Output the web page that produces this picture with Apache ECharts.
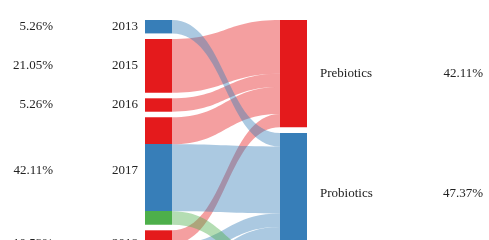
<!DOCTYPE html>
<html>
<head>
<meta charset="utf-8">
<script src="https://cdn.jsdelivr.net/npm/echarts@6/dist/echarts.min.js"></script>
<style>
  html, body { margin: 0; padding: 0; background: #fff; overflow: hidden; }
  #chart { width: 489px; height: 240px; }
</style>
</head>
<body>
<div id="chart"></div>
<script>
// left column (years) and their shares
const years = ['2013', '2015', '2016', '2017', '2018', '2019']
const yearShares = ['5.26%', '21.05%', '5.26%', '42.11%', '10.53%', '15.79%']
// right column (types)
const types = ['Prebiotics', 'Probiotics', 'Synbiotics']
const typeShares = ['42.11%', '47.37%', '10.53%']
const typeColors = ['#e41a1c', '#377eb8', '#4daf4a']
// flows per year into each type (counts)
const flowPrebiotics = [0, 4, 1, 2, 1, 0]
const flowProbiotics = [1, 0, 0, 5, 1, 2]
const flowSynbiotics = [0, 0, 0, 1, 0, 1]

const flows = [flowPrebiotics, flowProbiotics, flowSynbiotics]
const textFont = { fontFamily: 'Liberation Serif', fontSize: 13, color: '#222' }

// left nodes are split into coloured pieces, one per outgoing flow
const yearColor = (i) => {
  const total = flows.reduce((s, f) => s + f[i], 0)
  const stops = []
  let acc = 0
  flows.forEach((f, t) => {
    if (!f[i]) return
    stops.push({ offset: acc / total, color: typeColors[t] })
    acc += f[i]
    stops.push({ offset: acc / total, color: typeColors[t] })
  })
  return new echarts.graphic.LinearGradient(0, 0, 0, 1, stops)
}

const nodes = []
years.forEach((y, i) => {
  nodes.push({
    name: y,
    itemStyle: { color: yearColor(i) },
    label: {
      position: 'left',
      distance: 7,
      formatter: `{p|${yearShares[i]}}{y|${y}}`,
      rich: {
        p: { ...textFont, width: 50, align: 'right' },
        y: { ...textFont, width: 85, align: 'right' }
      }
    }
  })
})
types.forEach((t, i) => {
  nodes.push({
    name: t,
    itemStyle: { color: typeColors[i] },
    label: {
      position: 'right',
      distance: 13,
      formatter: `{n|${t}}{p|${typeShares[i]}}`,
      rich: {
        n: { ...textFont, width: 118, align: 'left' },
        p: { ...textFont, width: 45, align: 'right' }
      }
    }
  })
})

const links = []
flows.forEach((f, t) => {
  f.forEach((v, i) => {
    if (v) links.push({ source: years[i], target: types[t], value: v })
  })
})

const chart = echarts.init(document.getElementById('chart'))
chart.setOption({
  animation: false,
  series: [
    {
      type: 'sankey',
      left: 145,
      right: 182,
      top: 20,
      height: 283,
      nodeWidth: 27,
      nodeGap: 5.6,
      layoutIterations: 0,
      draggable: false,
      emphasis: { disabled: true },
      itemStyle: { borderWidth: 0 },
      lineStyle: { color: 'target', opacity: 0.42, curveness: 0.5 },
      label: { ...textFont },
      data: nodes,
      links: links
    }
  ]
})
</script>
</body>
</html>
